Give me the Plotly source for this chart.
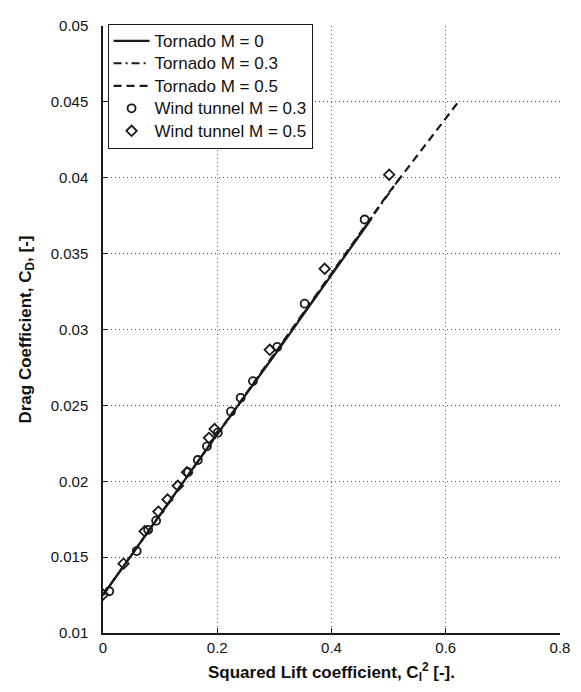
import plotly.graph_objects as go

# Tornado predictions (lines)
tornado_x_m0 = [0.0, 0.1, 0.2, 0.3, 0.4, 0.47]
tornado_cd_m0 = [0.0125, 0.0178, 0.0231, 0.0283, 0.0336, 0.0373]
tornado_x_m03 = [0.0, 0.1, 0.2, 0.3, 0.4, 0.52]
tornado_cd_m03 = [0.0125, 0.0178, 0.0231, 0.0284, 0.0337, 0.0400]
tornado_x_m05 = [0.0, 0.1, 0.2, 0.3, 0.4, 0.5, 0.62]
tornado_cd_m05 = [0.0125, 0.0178, 0.0231, 0.0284, 0.0337, 0.0390, 0.0449]

# Wind tunnel measurements
wt_x_m03 = [0.011, 0.059, 0.079, 0.093, 0.149, 0.166, 0.182, 0.201, 0.224,
            0.241, 0.2625, 0.305, 0.353, 0.458]
wt_cd_m03 = [0.01275, 0.0154, 0.0168, 0.0174, 0.0206, 0.0214, 0.0223, 0.0232,
             0.0246, 0.0255, 0.0266, 0.02885, 0.0317, 0.03725]
wt_x_m05 = [0.0, 0.036, 0.073, 0.097, 0.113, 0.131, 0.147, 0.1855, 0.1954,
            0.292, 0.388, 0.501]
wt_cd_m05 = [0.01253, 0.01457, 0.0167, 0.0180, 0.0188, 0.0197, 0.0206, 0.02286,
             0.02344, 0.02866, 0.0340, 0.0402]

x_ticks = [0, 0.2, 0.4, 0.6, 0.8]
x_labels = ["0", "0.2", "0.4", "0.6", "0.8"]
y_ticks = [0.01, 0.015, 0.02, 0.025, 0.03, 0.035, 0.04, 0.045, 0.05]
y_labels = ["0.01", "0.015", "0.02", "0.025", "0.03", "0.035", "0.04", "0.045", "0.05"]

series_names = ["Tornado M = 0", "Tornado M = 0.3", "Tornado M = 0.5",
                "Wind tunnel M = 0.3", "Wind tunnel M = 0.5"]

ink = "#1a1a1a"
FONT = "Liberation Sans, Arial, sans-serif"


def leg(name):
    return "<span style='font-size:17px'>" + name + "</span>"


fig = go.Figure()
fig.add_trace(go.Scatter(x=tornado_x_m0, y=tornado_cd_m0, mode="lines",
                         name=leg(series_names[0]),
                         line=dict(color=ink, width=2.2)))
fig.add_trace(go.Scatter(x=tornado_x_m03, y=tornado_cd_m03, mode="lines",
                         name=leg(series_names[1]),
                         line=dict(color=ink, width=2, dash="8px,4px,2px,4px")))
fig.add_trace(go.Scatter(x=tornado_x_m05, y=tornado_cd_m05, mode="lines",
                         name=leg(series_names[2]),
                         line=dict(color=ink, width=2.2, dash="8px,5px")))
fig.add_trace(go.Scatter(x=wt_x_m03, y=wt_cd_m03, mode="markers",
                         name=leg(series_names[3]),
                         marker=dict(symbol="circle-open", size=8, color=ink,
                                     line=dict(width=1.8, color=ink))))
fig.add_trace(go.Scatter(x=wt_x_m05, y=wt_cd_m05, mode="markers",
                         name=leg(series_names[4]),
                         marker=dict(symbol="diamond-open", size=8, color=ink,
                                     line=dict(width=1.8, color=ink))))

axis_common = dict(showgrid=True, gridcolor="#555", griddash="1px,3px", gridwidth=1,
                   showline=True, linecolor=ink, linewidth=1.5, ticks="inside",
                   ticklen=5, tickcolor=ink, zeroline=False,
                   tickfont=dict(family=FONT, size=15, color="#111"))

fig.update_xaxes(range=[0, 0.8], tickvals=x_ticks, ticktext=x_labels,
                 title=dict(text="<b>Squared Lift coefficient, C<sub>l</sub><sup>2</sup> [-].</b>",
                            font=dict(family=FONT, size=17, color="#111"),
                            standoff=11),
                 **axis_common)
fig.update_yaxes(range=[0.01, 0.05], tickvals=y_ticks, ticktext=y_labels,
                 ticklabelstandoff=10,
                 title=dict(text="<b>Drag Coefficient, C<sub>D</sub>, [-]</b>",
                            font=dict(family=FONT, size=17, color="#111"),
                            standoff=15),
                 **axis_common)

fig.update_layout(
    width=581, height=692,
    margin=dict(l=95, r=29, t=9, b=67),
    plot_bgcolor="white", paper_bgcolor="white",
    showlegend=True,
    legend=dict(x=0.01, y=1.004, xanchor="left", yanchor="top",
                bgcolor="white", bordercolor=ink, borderwidth=1,
                font=dict(family=FONT, size=15, color="#111"),
                tracegroupgap=0, itemwidth=36),
)

fig.write_html("out.html")
